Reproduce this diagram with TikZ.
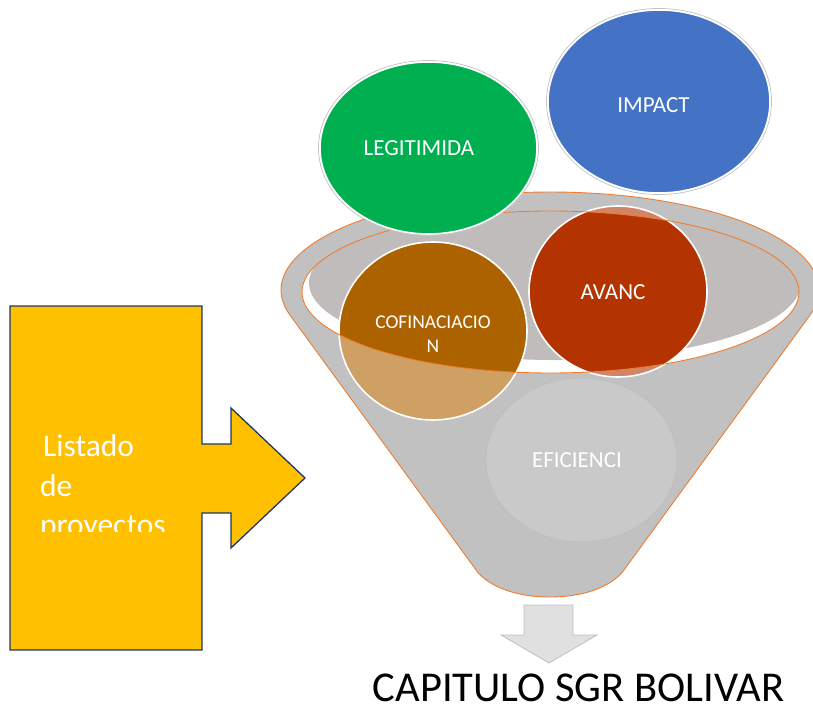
\documentclass[tikz,border=0pt]{standalone}
\usepackage{fontspec}
\setmainfont{Carlito}
\definecolor{bodygray}{HTML}{C1C1C1}
\definecolor{innergray}{HTML}{C0BCBB}
\definecolor{funorange}{HTML}{ED7D31}
\definecolor{efigray}{HTML}{C9C9C9}
\definecolor{efiline}{HTML}{BDBDBD}
\definecolor{cofdark}{HTML}{AD6200}
\definecolor{coflight}{HTML}{CFA064}
\definecolor{avdark}{HTML}{B33400}
\definecolor{avlight}{HTML}{D28566}
\definecolor{legigreen}{HTML}{00B050}
\definecolor{impblue}{HTML}{4472C4}
\definecolor{ringgray}{HTML}{C4C4C4}
\definecolor{arrowyellow}{HTML}{FFC000}
\definecolor{arrowline}{HTML}{203864}
\definecolor{downfill}{HTML}{E0E0E0}
\definecolor{downline}{HTML}{C0C0C0}
\tikzset{
  lbl/.style={text=white, inner sep=0pt, font=\fontsize{23}{27}\selectfont},
  whiteedge/.style={draw=white, line width=1.6pt},
}
\begin{document}
\begin{tikzpicture}[x=1pt,y=-1pt]
\useasboundingbox (0,0) rectangle (813,706);

% funnel body
\filldraw[fill=bodygray, draw=funorange, line width=0.9pt]
  plot[domain=164.9:375.1, samples=150] ({550+269*cos(\x)},{290+98*sin(\x)})
  -- (625.4,568) .. controls (616,583) and (590,597) .. (550,597)
  .. controls (510,597) and (484,583) .. (474.6,568) -- cycle;

% hole of the funnel
\fill[white] (550.5,292) ellipse [x radius=248.5pt, y radius=81pt];
\begin{scope}
  \clip (550.5,292) ellipse [x radius=248.5pt, y radius=81pt];
  \fill[innergray] (555,283) ellipse [x radius=246pt, y radius=77pt];
\end{scope}

% circles inside the funnel (light, seen through the funnel)
\filldraw[fill=efigray, draw=efiline, line width=0.6pt] (581.5,460) ellipse [x radius=95.5pt, y radius=82pt];
\fill[coflight] (433,331) ellipse [x radius=94pt, y radius=89pt];
\fill[avlight] (618,291.5) ellipse [x radius=89pt, y radius=85.5pt];
% dark parts inside the hole
\begin{scope}
  \clip (550.5,292) ellipse [x radius=248.5pt, y radius=81pt];
  \fill[cofdark] (433,331) ellipse [x radius=94pt, y radius=89pt];
  \fill[avdark] (618,291.5) ellipse [x radius=89pt, y radius=85.5pt];
\end{scope}
\draw[whiteedge] (433,331) ellipse [x radius=94pt, y radius=89pt];
\draw[whiteedge] (618,291.5) ellipse [x radius=89pt, y radius=85.5pt];

% rim line of the hole
\draw[funorange, line width=0.9pt] (550.5,292) ellipse [x radius=248.5pt, y radius=81pt];

% labels inside the funnel
\node[lbl, anchor=base] (cofA) at (433,328) {\fontsize{19.5}{23}\selectfont COFINACIACIO};
\node[lbl, anchor=base] (cofB) at (433,352) {\fontsize{19.5}{23}\selectfont N};
\node[lbl] (avanc) at (613,292) {AVANC};
\node[lbl] (efi) at (577,460.5) {EFICIENCI};

% circles above the funnel
\draw[ringgray, line width=0.8pt] (428.5,148) ellipse [x radius=110pt, y radius=87.5pt];
\filldraw[fill=legigreen, whiteedge] (428.5,148) ellipse [x radius=108.5pt, y radius=86pt];
\node[lbl] (legi) at (419,148) {LEGITIMIDA};

\draw[ringgray, line width=0.8pt] (659,101.5) ellipse [x radius=112.5pt, y radius=93pt];
\filldraw[fill=impblue, whiteedge] (659,101.5) ellipse [x radius=111pt, y radius=91.5pt];
\node[lbl] (impact) at (653.5,105.5) {IMPACT};

% yellow arrow
\filldraw[fill=arrowyellow, draw=arrowline, line width=1.3pt, line join=miter]
  (10,306) -- (202,306) -- (202,444) -- (231,444) -- (231,408) -- (305,478)
  -- (231,548) -- (231,513) -- (202,513) -- (202,650) -- (10,650) -- cycle;
\begin{scope}
  \clip (0,0) rectangle (813,531.5);
  \node[lbl, anchor=base west, font=\fontsize{31.5}{39}\selectfont] (listA) at (43,456) {Listado};
  \node[lbl, anchor=base west, font=\fontsize{31.5}{39}\selectfont] (listB) at (40,496) {de};
  \node[lbl, anchor=base west, font=\fontsize{31.5}{39}\selectfont] (listC) at (40,535) {proyectos};
\end{scope}

% down arrow
\filldraw[fill=downfill, draw=downline, line width=0.8pt]
  (524,605) -- (573,605) -- (573,635) -- (597,635) -- (549,663) -- (501,635) -- (524,635) -- cycle;

\node[inner sep=0pt, anchor=base, font=\fontsize{42.5}{50}\selectfont] (cap) at (578.5,701) {CAPITULO SGR BOLIVAR};
\end{tikzpicture}
\end{document}
